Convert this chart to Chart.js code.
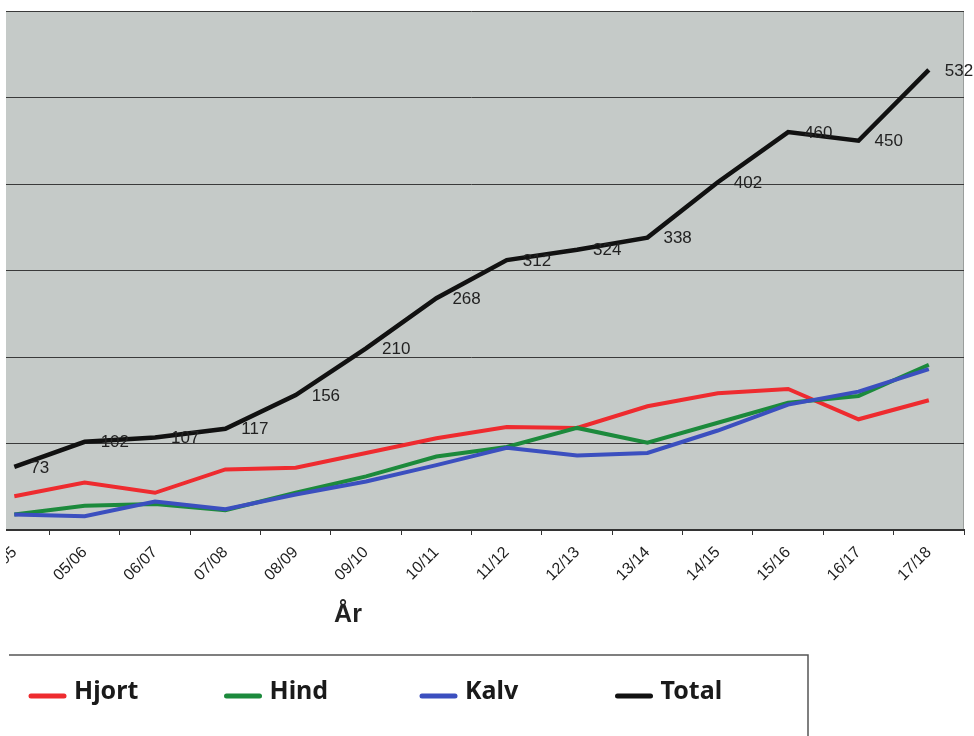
<!DOCTYPE html>
<html>
<head>
<meta charset="utf-8">
<script src="https://cdn.jsdelivr.net/npm/chart.js@4"></script>
<style>
  html, body { margin: 0; padding: 0; background: #fff; overflow: hidden; }
  #wrap { position: absolute; left: -22px; top: 0; width: 996px; height: 736px; }
</style>
</head>
<body>
<div id="wrap"><canvas id="chart" width="996" height="736"></canvas></div>
<script>
// Season labels (first one is cut off at the left edge in the scan)
const seasons = ['04/05', '05/06', '06/07', '07/08', '08/09', '09/10', '10/11',
  '11/12', '12/13', '13/14', '14/15', '15/16', '16/17', '17/18'];

// Values
const hjort = [39, 55, 43, 70, 72, 89, 106, 119, 118, 143, 158, 163, 128, 150];
const hind = [18, 28, 30, 23, 43, 62, 85, 96, 118, 101, 124, 147, 155, 191];
const kalv = [18, 16, 33, 24, 41, 56, 75, 95, 86, 89, 115, 145, 160, 186];
const total = [73, 102, 107, 117, 156, 210, 268, 312, 324, 338, 402, 460, 450, 532];

const yTicks = [0, 100, 200, 300, 400, 500, 600];

const seriesNames = ['Hjort', 'Hind', 'Kalv', 'Total'];
const seriesColors = ['#ee2b2f', '#1c8a3c', '#3b4fbf', '#111111'];

const OFFSET_X = 22; // canvas is shifted left so the first category sits near the edge

// grey plot area like the Excel chart
const plotBackground = {
  id: 'plotBackground',
  beforeDraw(chart) {
    const { ctx, chartArea: a } = chart;
    ctx.save();
    ctx.fillStyle = '#c5cac8';
    ctx.fillRect(a.left, a.top, a.right - a.left, a.bottom - a.top);
    ctx.strokeStyle = '#9a9e9c';
    ctx.lineWidth = 1;
    ctx.beginPath();
    ctx.moveTo(a.right - 0.5, a.top);
    ctx.lineTo(a.right - 0.5, a.bottom);
    ctx.stroke();
    ctx.restore();
  },
};

// value labels next to the Total points
const totalLabels = {
  id: 'totalLabels',
  afterDatasetsDraw(chart) {
    const { ctx } = chart;
    const meta = chart.getDatasetMeta(3);
    ctx.save();
    ctx.font = '17px "Liberation Sans", Arial, sans-serif';
    ctx.fillStyle = '#222';
    ctx.textAlign = 'left';
    ctx.textBaseline = 'middle';
    meta.data.forEach((pt, i) => {
      ctx.fillText(String(total[i]), pt.x + 16, pt.y + 1);
    });
    ctx.restore();
  },
};

// axis title and the boxed legend under the chart
const legendBox = {
  id: 'legendBox',
  afterDraw(chart) {
    const { ctx } = chart;
    ctx.save();
    // white scan margin down the left side
    ctx.fillStyle = '#fff';
    ctx.fillRect(0, 0, OFFSET_X + 6, 640);

    ctx.fillStyle = '#222';
    ctx.font = 'bold 25px "Liberation Sans", Arial, sans-serif';
    ctx.textAlign = 'center';
    ctx.textBaseline = 'alphabetic';
    ctx.fillText('År', 348 + OFFSET_X, 622);

    ctx.strokeStyle = '#555';
    ctx.lineWidth = 1.5;
    ctx.beginPath();
    ctx.moveTo(9 + OFFSET_X, 655);
    ctx.lineTo(808 + OFFSET_X, 655);
    ctx.lineTo(808 + OFFSET_X, 736);
    ctx.stroke();

    ctx.font = 'bold 25px "Noto Sans", sans-serif';
    ctx.textAlign = 'left';
    ctx.textBaseline = 'middle';
    chart.data.datasets.forEach((ds, i) => {
      const x = 31 + i * 195.5 + OFFSET_X;
      ctx.strokeStyle = ds.borderColor;
      ctx.lineWidth = 5;
      ctx.lineCap = 'round';
      ctx.beginPath();
      ctx.moveTo(x, 696);
      ctx.lineTo(x + 33, 696);
      ctx.stroke();
      ctx.fillStyle = '#1a1a1a';
      ctx.fillText(ds.label, x + 43, 692);
    });
    ctx.restore();
  },
};

const makeSet = (i, data, order) => ({
  label: seriesNames[i],
  data,
  borderColor: seriesColors[i],
  backgroundColor: seriesColors[i],
  borderWidth: i === 3 ? 4.5 : 4,
  pointRadius: 0,
  tension: 0,
  order,
});

new Chart(document.getElementById('chart'), {
  type: 'line',
  data: {
    labels: seasons,
    datasets: [
      makeSet(0, hjort, 4),
      makeSet(1, hind, 3),
      makeSet(2, kalv, 2),
      makeSet(3, total, 1),
    ],
  },
  options: {
    responsive: false,
    animation: false,
    devicePixelRatio: 1,
    layout: { padding: { top: 11, right: 10, left: 0, bottom: 0 } },
    plugins: {
      legend: { display: false },
      tooltip: { enabled: false },
    },
    scales: {
      x: {
        offset: true,
        grid: {
          offset: true,
          drawOnChartArea: false,
          tickLength: 5,
          color: '#333',
        },
        border: { color: '#333', width: 2 },
        ticks: {
          minRotation: 45,
          maxRotation: 45,
          color: '#1e1e1e',
          padding: 8,
          font: { family: '"Liberation Sans", Arial, sans-serif', size: 16 },
        },
        afterFit(scale) { scale.height = 206; },
      },
      y: {
        min: 0,
        max: 600,
        afterBuildTicks(scale) { scale.ticks = yTicks.map((v) => ({ value: v })); },
        ticks: { display: false },
        grid: { color: '#3a3a3a', lineWidth: 1, drawTicks: false },
        border: { display: false },
        afterFit(scale) { scale.width = 0; },
      },
    },
  },
  plugins: [plotBackground, totalLabels, legendBox],
});
</script>
</body>
</html>
